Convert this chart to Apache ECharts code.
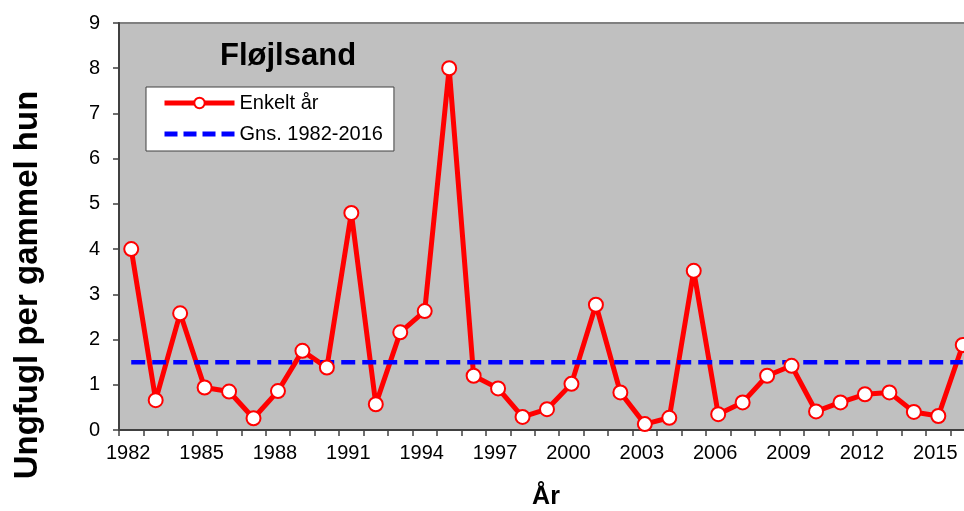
<!DOCTYPE html>
<html>
<head>
<meta charset="utf-8">
<script src="https://cdn.jsdelivr.net/npm/echarts@6/dist/echarts.min.js"></script>
<style>html,body{margin:0;padding:0;background:#fff}#c{width:964px;height:511px}</style>
</head>
<body>
<div id="c"></div>
<script>
var years = [1982,1983,1984,1985,1986,1987,1988,1989,1990,1991,1992,1993,1994,1995,1996,1997,1998,1999,2000,2001,2002,2003,2004,2005,2006,2007,2008,2009,2010,2011,2012,2013,2014,2015,2016];
var enkeltAar = [4.0,0.66,2.58,0.94,0.85,0.26,0.86,1.75,1.38,4.8,0.57,2.16,2.63,8.0,1.2,0.92,0.29,0.46,1.02,2.77,0.83,0.13,0.27,3.52,0.35,0.61,1.2,1.42,0.41,0.61,0.79,0.83,0.40,0.31,1.88];
var gnsValue = 1.5;
var gns = years.map(function(){ return gnsValue; });
var yTicks = [0,1,2,3,4,5,6,7,8,9];

var FONT = '"Liberation Sans", Arial, sans-serif';
var chart = echarts.init(document.getElementById('c'));
chart.setOption({
  animation: false,
  backgroundColor: '#ffffff',
  title: {
    text: 'Fløjlsand',
    left: 220, top: 41, padding: 0,
    textStyle: { fontFamily: FONT, fontSize: 31, fontWeight: 'bold', color: '#000' }
  },
  legend: {
    left: 146, top: 87,
    orient: 'vertical',
    padding: [6, 11, 7, 16],
    backgroundColor: '#ffffff',
    borderColor: '#404040',
    borderWidth: 1,
    borderRadius: 0,
    itemWidth: 70,
    itemHeight: 13,
    itemGap: 11,
    textStyle: { fontFamily: FONT, fontSize: 20, color: '#000', lineHeight: 20 },
    data: [
      { name: 'Enkelt år', lineStyle: { color: '#FF0000', width: 5 } },
      { name: 'Gns. 1982-2016', lineStyle: { color: '#0000FF', width: 5, type: [13, 6] }, itemStyle: { opacity: 0 } }
    ]
  },
  grid: {
    left: 119, top: 23, width: 856, height: 407,
    outerBoundsMode: 'none',
    containLabel: false,
    show: true,
    backgroundColor: '#C0C0C0',
    borderColor: '#808080',
    borderWidth: 2
  },
  xAxis: {
    type: 'category',
    data: years,
    boundaryGap: true,
    axisLine: { show: true, lineStyle: { color: '#404040', width: 2 } },
    axisTick: { show: true, interval: 0, length: 6, inside: false, lineStyle: { color: '#404040', width: 1.5 } },
    axisLabel: { interval: 2, margin: 13, padding: [0, 6, 0, 0], fontFamily: FONT, fontSize: 20, color: '#000' },
    splitLine: { show: false }
  },
  yAxis: {
    type: 'value',
    min: yTicks[0], max: yTicks[yTicks.length - 1], interval: 1,
    axisLine: { show: true, lineStyle: { color: '#404040', width: 2 } },
    axisTick: { show: true, length: 6, lineStyle: { color: '#404040', width: 1.5 } },
    axisLabel: { margin: 19, fontFamily: FONT, fontSize: 20, color: '#000' },
    splitLine: { show: false }
  },
  graphic: [
    {
      type: 'text', x: 28, y: 285, rotation: Math.PI / 2,
      style: { text: 'Ungfugl per gammel hun', font: 'bold 33px ' + FONT, fill: '#000', textAlign: 'center', textVerticalAlign: 'middle' }
    },
    {
      type: 'text', x: 546, y: 497,
      style: { text: 'År', font: 'bold 25px ' + FONT, fill: '#000', textAlign: 'center', textVerticalAlign: 'middle' }
    }
  ],
  series: [
    {
      name: 'Enkelt år',
      type: 'line',
      data: enkeltAar,
      symbol: 'circle',
      symbolSize: 14,
      showAllSymbol: true,
      lineStyle: { color: '#FF0000', width: 5 },
      itemStyle: { color: '#FFFFFF', borderColor: '#FF0000', borderWidth: 2 }
    },
    {
      name: 'Gns. 1982-2016',
      type: 'line',
      data: gns,
      symbol: 'none',
      lineStyle: { color: '#0000FF', width: 4.5, type: [14, 7] },
      itemStyle: { color: '#0000FF' }
    }
  ]
});
</script>
</body>
</html>
